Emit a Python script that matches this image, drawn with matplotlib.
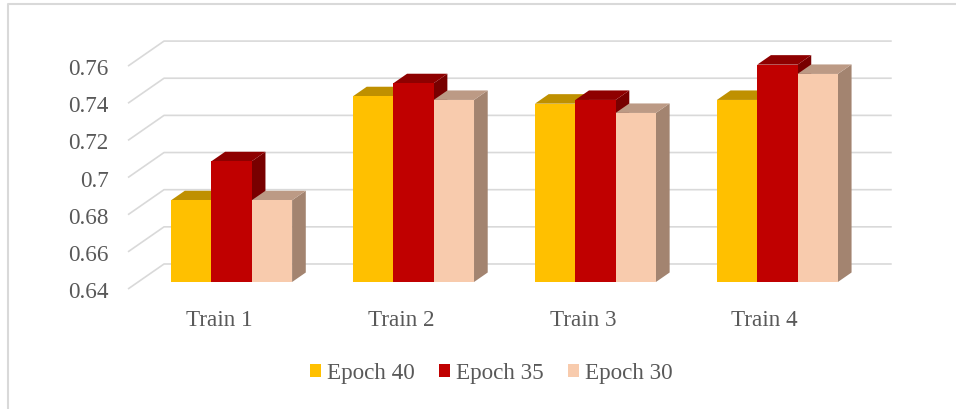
import matplotlib
matplotlib.use("Agg")
import matplotlib.pyplot as plt
from matplotlib.patches import Polygon, Patch
from matplotlib.lines import Line2D

# chart data
categories = ["Train 1", "Train 2", "Train 3", "Train 4"]
series_names = ["Epoch 40", "Epoch 35", "Epoch 30"]
epoch40 = [0.684, 0.740, 0.736, 0.738]
epoch35 = [0.705, 0.747, 0.738, 0.757]
epoch30 = [0.684, 0.738, 0.731, 0.752]
y_ticks = [0.64, 0.66, 0.68, 0.70, 0.72, 0.74, 0.76]
y_tick_labels = ["0.64", "0.66", "0.68", "0.7", "0.72", "0.74", "0.76"]

# face colours: front, top, side
front_cols = ["#FFC000", "#C00000", "#F8CBAD"]
top_cols = ["#BF9000", "#8E0000", "#BC9A85"]
side_cols = ["#A07800", "#780000", "#A38470"]

grid_col = "#D9D9D9"
text_col = "#595959"
font = "Liberation Serif"
fs = 16.7

# oblique projection: offset of the back wall in data units
DX = 0.198
DY = 0.01346
d_front, d_back = 0.28, 0.66
base = 0.64
group_w = 0.665
bar_w = group_w / 3
shift = 0.014

fig = plt.figure(figsize=(9.56, 4.10), dpi=100)
ax = fig.add_axes([0.1339, 0.2927, 0.7612, 0.589])
ax.set_xlim(-0.5, 3.5)
ax.set_ylim(0.64, 0.77)
for s in ax.spines.values():
    s.set_visible(False)

# side wall and back wall gridlines
for v in y_ticks:
    ax.plot([-0.5, -0.5 + DX, 3.5 + DX], [v, v + DY, v + DY],
            color=grid_col, lw=1.2, clip_on=False, zorder=1,
            solid_capstyle="butt")

# bars, drawn left to right so nearer faces overlap correctly
values = [epoch40, epoch35, epoch30]
ddx = (d_back - d_front) * DX
ddy = (d_back - d_front) * DY
for i in range(len(categories)):
    for j, vals in enumerate(values):
        x0 = i - group_w / 2 + j * bar_w + d_front * DX + shift
        x1 = x0 + bar_w
        yb = base + d_front * DY
        yt = vals[i] + d_front * DY
        side = Polygon([(x1, yb), (x1, yt), (x1 + ddx, yt + ddy), (x1 + ddx, yb + ddy)],
                       closed=True, facecolor=side_cols[j], edgecolor="none",
                       clip_on=False, zorder=2)
        top = Polygon([(x0, yt), (x1, yt), (x1 + ddx, yt + ddy), (x0 + ddx, yt + ddy)],
                      closed=True, facecolor=top_cols[j], edgecolor="none",
                      clip_on=False, zorder=2)
        front = Polygon([(x0, yb), (x1, yb), (x1, yt), (x0, yt)],
                        closed=True, facecolor=front_cols[j], edgecolor="none",
                        clip_on=False, zorder=2)
        ax.add_patch(side)
        ax.add_patch(top)
        ax.add_patch(front)

ax.set_yticks(y_ticks)
ax.set_yticklabels(y_tick_labels)
ax.set_xticks(range(len(categories)))
ax.set_xticklabels(categories)
ax.tick_params(axis="y", length=0, pad=14, labelsize=fs, labelcolor=text_col)
ax.tick_params(axis="x", length=0, pad=14.5, labelsize=fs, labelcolor=text_col)
for lab in ax.get_xticklabels() + ax.get_yticklabels():
    lab.set_fontfamily(font)

handles = [Patch(facecolor=c, edgecolor="none") for c in front_cols]
fig.legend(handles, series_names, loc="center", bbox_to_anchor=(491 / 956, 1 - 374 / 410),
           ncol=3, frameon=False, handlelength=0.47, handleheight=0.47,
           handletextpad=0.25, columnspacing=1.06,
           prop={"family": font, "size": fs}, labelcolor=text_col)

# chart area border (top and left edges)
fig.add_artist(Line2D([7.5 / 956, 7.5 / 956, 1], [0, 1 - 4.5 / 410, 1 - 4.5 / 410],
                      transform=fig.transFigure, color=grid_col, lw=1.5))

fig.savefig("out.png", dpi=100)
